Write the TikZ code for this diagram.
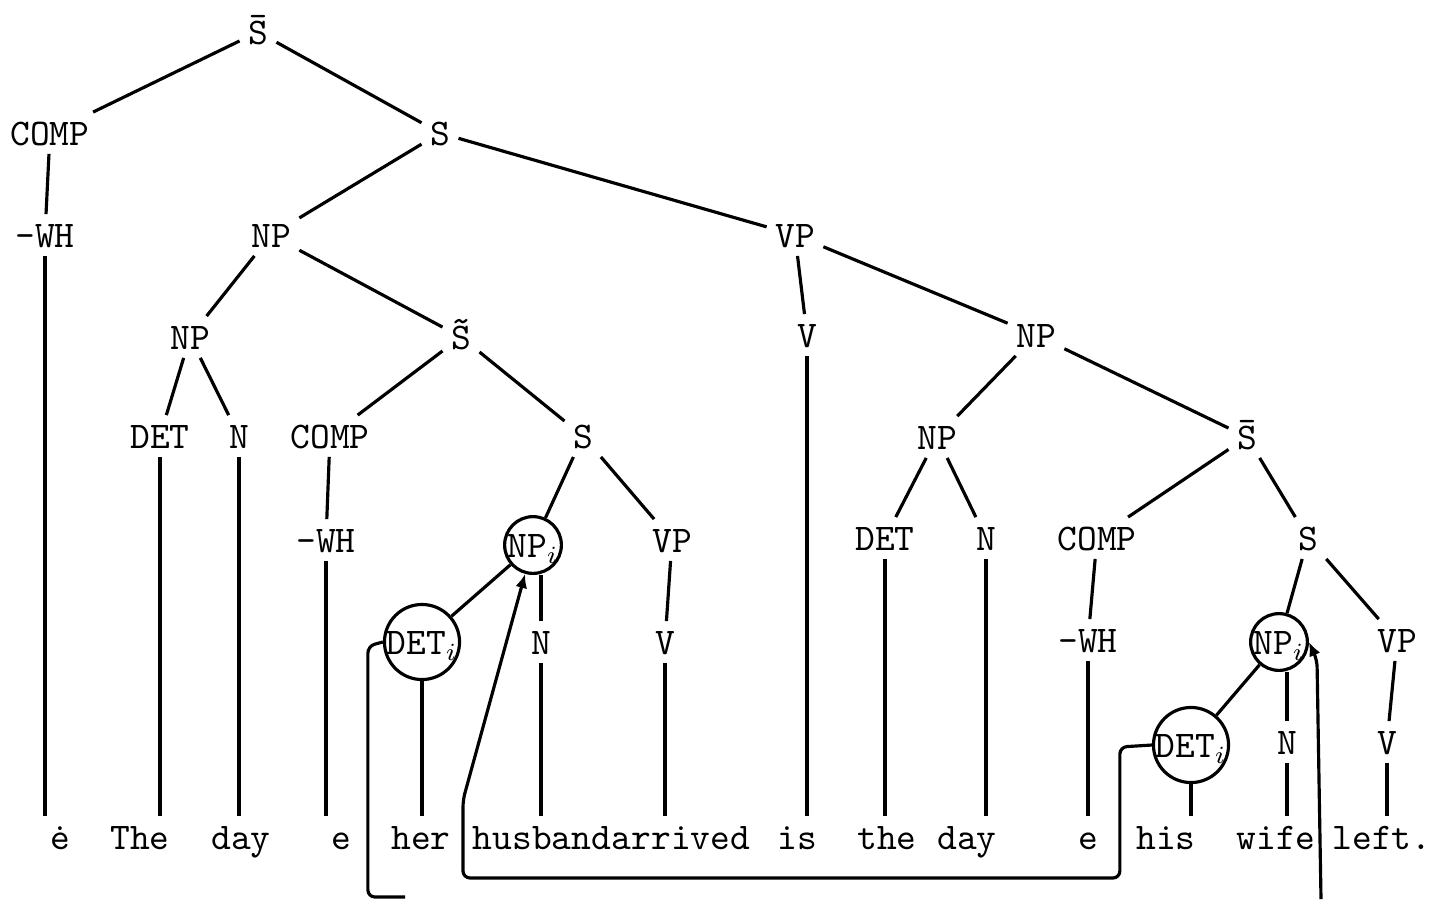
\documentclass[tikz,border=0pt]{standalone}
\usepackage{tikz}
\usetikzlibrary{arrows.meta}
\tikzset{
	tnode/.style={font=\fontsize{10.7}{13}\selectfont\ttfamily, inner sep=2pt, text height=7pt, text depth=0pt},
	word/.style={tnode, anchor=base},
	circ/.style={tnode, circle, draw, line width=0.9pt, inner sep=0pt},
	link/.style={line width=0.9pt, rounded corners=2pt},
	tip/.style={-{Latex[length=4pt,width=3.4pt]}}
}
\newcommand{\sbar}{\accent"00AF S}
\newcommand{\stil}{\accent"02DC S}

\begin{document}
\begin{tikzpicture}[x=0.01cm, y=-0.01cm, line width=0.9pt]
			%%%%% START %%%%%
			\useasboundingbox (0,0) rectangle (1436,899);
			
			% categories
			\node[tnode] (sb0) at (258, 32) {\sbar};
			\node[tnode] (comp0) at (50, 133) {COMP};
			\node[tnode] (s0) at (440, 133) {S};
			\node[tnode] (wh0) at (45, 235) {-WH};
			\node[tnode] (np0) at (271, 235) {NP};
			\node[tnode] (vp0) at (795, 235) {VP};
			\node[tnode] (np1) at (190, 337) {NP};
			\node[tnode] (sb1) at (461, 337) {\stil};
			\node[tnode] (v0) at (807, 335) {V};
			\node[tnode] (np2) at (1036, 335) {NP};
			\node[tnode] (det0) at (160, 436) {DET};
			\node[tnode] (n0) at (239, 436) {N};
			\node[tnode] (comp1) at (330, 436) {COMP};
			\node[tnode] (s1) at (583, 436) {S};
			\node[tnode] (np3) at (937, 437) {NP};
			\node[tnode] (sb2) at (1247, 437) {\sbar};
			\node[tnode] (wh1) at (326, 540) {-WH};
			\node[circ] (npi1) at (533, 545) {NP$_i$};
			\node[tnode] (vp1) at (672, 540) {VP};
			\node[tnode] (det1) at (885, 538) {DET};
			\node[tnode] (n1) at (986, 538) {N};
			\node[tnode] (comp2) at (1097, 538) {COMP};
			\node[tnode] (s2) at (1308, 538) {S};
			\node[circ] (deti1) at (422, 642) {DET$_i$};
			\node[tnode] (n2) at (541, 642) {N};
			\node[tnode] (v1) at (665, 642) {V};
			\node[tnode] (wh2) at (1088, 640) {-WH};
			\node[circ] (npi2) at (1279, 642) {NP$_i$};
			\node[tnode] (vp2) at (1397, 640) {VP};
			\node[circ] (deti2) at (1191, 745) {DET$_i$};
			\node[tnode] (n3) at (1287, 742) {N};
			\node[tnode] (v2) at (1387, 742) {V};
			
			% words
			\node[word] (w1) at (60, 849) {\.e};
			\node[word] (w2) at (140, 849) {The};
			\node[word] (w3) at (241, 849) {day};
			\node[word] (w4) at (341, 849) {e};
			\node[word] (w5) at (421, 849) {her};
			\node[word] (w6) at (542, 849) {husband};
			\node[word] (w7) at (681, 849) {arrived};
			\node[word] (w8) at (797, 849) {is};
			\node[word] (w9) at (887, 849) {the};
			\node[word] (w10) at (967, 849) {day};
			\node[word] (w11) at (1088, 849) {e};
			\node[word] (w12) at (1166, 849) {his};
			\node[word] (w13) at (1276, 849) {wife};
			\node[word] (w14) at (1382, 849) {left.};
			
			% branches
			\draw (sb0) -- (comp0);
			\draw (sb0) -- (s0);
			\draw (s0) -- (np0);
			\draw (s0) -- (vp0);
			\draw (np0) -- (np1);
			\draw (np0) -- (sb1);
			\draw (np1) -- (det0);
			\draw (np1) -- (n0);
			\draw (sb1) -- (comp1);
			\draw (sb1) -- (s1);
			\draw (s1) -- (npi1);
			\draw (s1) -- (vp1);
			\draw (npi1) -- (deti1);
			\draw (vp0) -- (v0);
			\draw (vp0) -- (np2);
			\draw (np2) -- (np3);
			\draw (np2) -- (sb2);
			\draw (np3) -- (det1);
			\draw (np3) -- (n1);
			\draw (sb2) -- (comp2);
			\draw (sb2) -- (s2);
			\draw (s2) -- (npi2);
			\draw (s2) -- (vp2);
			\draw (npi2) -- (deti2);
			\draw (comp0) -- (wh0);
			\draw (comp1) -- (wh1);
			\draw (comp2) -- (wh2);
			\draw (vp1) -- (v1);
			\draw (vp2) -- (v2);
			\draw (n2) -- (n2 |- npi1.south);
			\draw (n3) -- (n3 |- npi2.south);
			
			% down to the words
			\draw (wh0) -- (wh0 |- w1.north);
			\draw (det0) -- (det0 |- w2.north);
			\draw (n0) -- (n0 |- w3.north);
			\draw (wh1) -- (wh1 |- w4.north);
			\draw (deti1) -- (deti1 |- w5.north);
			\draw (n2) -- (n2 |- w6.north);
			\draw (v1) -- (v1 |- w7.north);
			\draw (v0) -- (v0 |- w8.north);
			\draw (det1) -- (det1 |- w9.north);
			\draw (n1) -- (n1 |- w10.north);
			\draw (wh2) -- (wh2 |- w11.north);
			\draw (deti2) -- (deti2 |- w12.north);
			\draw (n3) -- (n3 |- w13.north);
			\draw (v2) -- (v2 |- w14.north);
			
			% index links
			\coordinate (lowL) at (405, 897);
			\coordinate (lowR) at (1321, 899);
			\draw[link] (deti1.west) -- ++(-15, 4) |- (lowL);
			\draw[link, tip] (deti2.west) -- ++(-32, 2) |- (463, 878) -- (463, 800) -- (npi1);
			\draw[link, tip] (lowR) -- (1317, 660) -- (npi2.east);
			
			%%%%% END %%%%%
\end{tikzpicture}
\end{document}
